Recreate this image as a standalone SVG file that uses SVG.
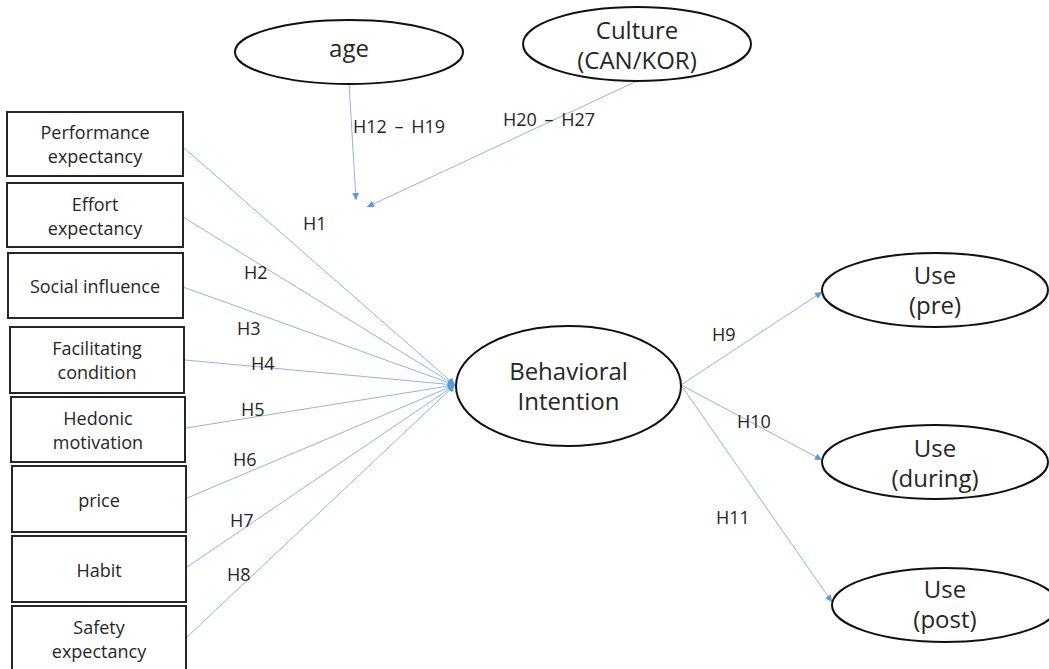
<svg xmlns="http://www.w3.org/2000/svg" width="1049" height="669" viewBox="0 0 1049 669">
  <defs>
    <marker id="arrow" viewBox="0 0 10 10" refX="10" refY="5" markerWidth="8" markerHeight="7" markerUnits="userSpaceOnUse" orient="auto">
      <path d="M0,0 L10,5 L0,10 z" fill="#5B9BD5"/>
    </marker>
    <style>
      .box { fill: #ffffff; stroke: #262626; stroke-width: 2; }
      .ell { fill: #ffffff; stroke: #111111; stroke-width: 2; }
      .t { font-family: "Open Sans", "Noto Sans", sans-serif; fill: #262626; text-anchor: middle; }
      .s18 { font-size: 18px; }
      .s24 { font-size: 24px; }
      .lbl { font-family: "Open Sans", "Noto Sans", sans-serif; font-size: 18px; fill: #262626; }
      .con { stroke: #8EB4E3; stroke-width: 1; fill: none; marker-end: url(#arrow); }
    </style>
  </defs>
  <rect width="1049" height="669" fill="#ffffff"/>

  <!-- connectors -->
  <g id="connectors">
    <line class="con" x1="183" y1="147" x2="455" y2="385"/>
    <line class="con" x1="183" y1="217" x2="455" y2="385"/>
    <line class="con" x1="183" y1="287" x2="455" y2="385"/>
    <line class="con" x1="185" y1="360" x2="455" y2="385"/>
    <line class="con" x1="186" y1="428" x2="455" y2="385"/>
    <line class="con" x1="187" y1="498" x2="455" y2="385"/>
    <line class="con" x1="187" y1="567" x2="455" y2="385"/>
    <line class="con" x1="187" y1="637" x2="455" y2="385"/>
    <line class="con" x1="681" y1="385" x2="822" y2="292"/>
    <line class="con" x1="681" y1="385" x2="822" y2="460"/>
    <line class="con" x1="681" y1="385" x2="832" y2="602"/>
    <line class="con" x1="349" y1="83" x2="356" y2="200"/>
    <line class="con" x1="637" y1="81" x2="367" y2="207"/>
  </g>

  <!-- hypothesis labels -->
  <g id="labels">
    <text class="lbl" x="303" y="229.5">H1</text>
    <text class="lbl" x="244" y="278.5">H2</text>
    <text class="lbl" x="237" y="334.5">H3</text>
    <text class="lbl" x="251" y="369.5">H4</text>
    <text class="lbl" x="241" y="415.5">H5</text>
    <text class="lbl" x="233" y="465.5">H6</text>
    <text class="lbl" x="230" y="526.5">H7</text>
    <text class="lbl" x="227" y="580.5">H8</text>
    <text class="lbl" x="712" y="340.5">H9</text>
    <text class="lbl" x="737" y="427.5">H10</text>
    <text class="lbl" x="716" y="523.5">H11</text>
    <text class="lbl" x="353" y="132.5" word-spacing="3">H12 – H19</text>
    <text class="lbl" x="503" y="125.5" word-spacing="3">H20 – H27</text>
  </g>

  <!-- moderators -->
  <g id="age">
    <ellipse class="ell" cx="349" cy="52" rx="114" ry="32"/>
    <text class="t s24" x="349" y="57">age</text>
  </g>
  <g id="culture">
    <ellipse class="ell" cx="637" cy="44" rx="114" ry="37"/>
    <text class="t s24" x="637" y="39">Culture</text>
    <text class="t s24" x="637" y="69">(CAN/KOR)</text>
  </g>

  <!-- predictors -->
  <g id="performance-expectancy">
    <rect class="box" x="7" y="112" width="176" height="64"/>
    <text class="t s18" x="95" y="139">Performance</text>
    <text class="t s18" x="95" y="163">expectancy</text>
  </g>
  <g id="effort-expectancy">
    <rect class="box" x="7" y="183" width="176" height="64"/>
    <text class="t s18" x="95" y="211">Effort</text>
    <text class="t s18" x="95" y="235">expectancy</text>
  </g>
  <g id="social-influence">
    <rect class="box" x="8" y="253" width="175" height="65"/>
    <text class="t s18" x="95" y="293">Social influence</text>
  </g>
  <g id="facilitating-condition">
    <rect class="box" x="10" y="327" width="174" height="66"/>
    <text class="t s18" x="97" y="355">Facilitating</text>
    <text class="t s18" x="97" y="379">condition</text>
  </g>
  <g id="hedonic-motivation">
    <rect class="box" x="11" y="397" width="174" height="65"/>
    <text class="t s18" x="98" y="425">Hedonic</text>
    <text class="t s18" x="98" y="449">motivation</text>
  </g>
  <g id="price">
    <rect class="box" x="12" y="466" width="174" height="66"/>
    <text class="t s18" x="99" y="507">price</text>
  </g>
  <g id="habit">
    <rect class="box" x="12" y="536" width="174" height="66"/>
    <text class="t s18" x="99" y="577">Habit</text>
  </g>
  <g id="safety-expectancy">
    <rect class="box" x="12" y="606" width="174" height="66"/>
    <text class="t s18" x="99" y="634">Safety</text>
    <text class="t s18" x="99" y="658">expectancy</text>
  </g>

  <!-- intention -->
  <g id="behavioral-intention">
    <ellipse class="ell" cx="568.5" cy="386" rx="112.5" ry="60"/>
    <text class="t s24" x="568.5" y="380">Behavioral</text>
    <text class="t s24" x="568.5" y="410">Intention</text>
  </g>

  <!-- outcomes -->
  <g id="use-pre">
    <ellipse class="ell" cx="935" cy="290" rx="113" ry="37"/>
    <text class="t s24" x="935" y="284">Use</text>
    <text class="t s24" x="935" y="314">(pre)</text>
  </g>
  <g id="use-during">
    <ellipse class="ell" cx="935" cy="462" rx="113" ry="37"/>
    <text class="t s24" x="935" y="457">Use</text>
    <text class="t s24" x="935" y="487">(during)</text>
  </g>
  <g id="use-post">
    <ellipse class="ell" cx="945" cy="605" rx="113" ry="37"/>
    <text class="t s24" x="945" y="598">Use</text>
    <text class="t s24" x="945" y="628">(post)</text>
  </g>
</svg>
